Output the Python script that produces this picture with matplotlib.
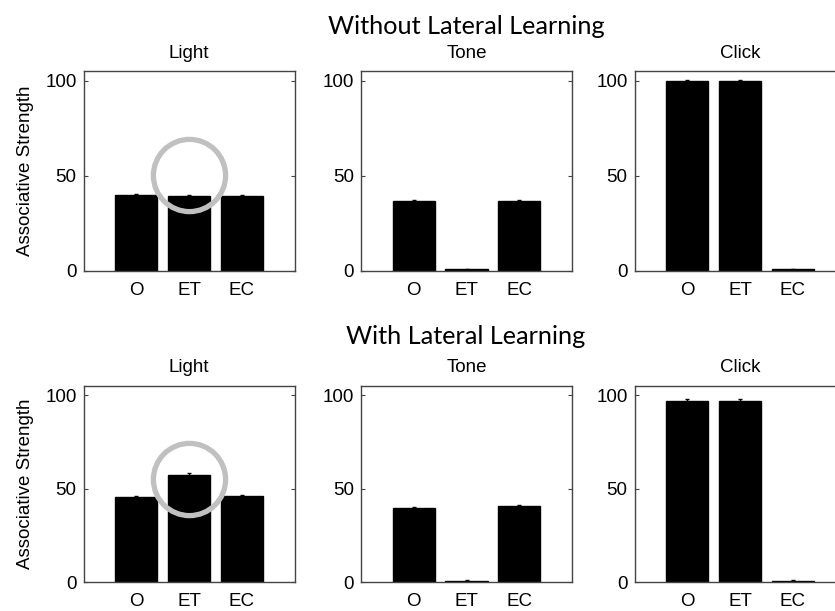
import numpy as np
import matplotlib.pyplot as plt

# associative strength per cue, conditions O / ET / EC
conditions = ['O', 'ET', 'EC']
cues = ['Light', 'Tone', 'Click']

without_light = [40.2, 39.5, 39.6]
without_tone = [37.0, 0.8, 37.0]
without_click = [100.0, 100.0, 0.8]

with_light = [45.3, 57.3, 46.2]
with_tone = [39.7, 0.8, 40.5]
with_click = [97.0, 97.0, 0.8]

err_without_light = [0.5, 0.5, 0.5]
err_without_tone = [0.5, 0.4, 0.5]
err_without_click = [0.4, 0.4, 0.4]
err_with_light = [0.6, 1.2, 0.6]
err_with_tone = [0.6, 0.4, 0.7]
err_with_click = [1.0, 1.0, 0.4]

# highlighted ET bar in the Light panel (ring centre)
ring_top_y = 50.5
ring_bottom_y = 55.0

rows = [
  ('Without Lateral Learning', [without_light, without_tone, without_click],
   [err_without_light, err_without_tone, err_without_click], ring_top_y),
  ('With Lateral Learning', [with_light, with_tone, with_click],
   [err_with_light, err_with_tone, err_with_click], ring_bottom_y),
]

W, H = 835, 611
fig = plt.figure(figsize=(W / 100, H / 100), dpi=100)

tick_font = dict(family='Liberation Sans', size=13.5)
lefts = [83.5, 361, 634.5]
width = 211
tops = [71.5, 385.7]
heights = [199.5, 196.6]
row_title_base = [33.5, 343.5]
row_title_x = 466

for r, (row_title, values, errs, ring_y) in enumerate(rows):
  fig.text(row_title_x / W, 1 - row_title_base[r] / H, row_title,
           family='Lato', fontsize=18.2, ha='center', va='baseline')
  for c in range(3):
    ax = fig.add_axes([lefts[c] / W, 1 - (tops[r] + heights[r]) / H,
                       width / W, heights[r] / H])
    x = np.arange(1, 4)
    ax.bar(x, values[c], width=0.8, color='black', edgecolor='black')
    ax.errorbar(x, values[c], yerr=errs[c], fmt='none', ecolor='black',
                elinewidth=1, capsize=1.5, capthick=1)
    ax.set_xlim(0, 4)
    ax.set_ylim(0, 105)
    ax.set_xticks(x)
    ax.set_xticklabels(conditions, fontdict=tick_font)
    ax.set_yticks([0, 50, 100])
    ax.set_yticklabels(['0', '50', '100'], fontdict=tick_font)
    ax.tick_params(axis='y', direction='in', length=3, right=True,
                   pad=5, color='#444444')
    ax.tick_params(axis='x', length=0, pad=8)
    for s in ax.spines.values():
      s.set_color('#444444')
      s.set_linewidth(1.0)
    ax.set_title(cues[c], fontdict=dict(family='Liberation Sans', size=13.5),
                 pad=10)
    if c == 0:
      ax.set_ylabel('Associative Strength', fontdict=tick_font, labelpad=8)
      ax.plot([2], [ring_y], marker='o', markersize=52, markerfacecolor='none',
              markeredgecolor='#c0c0c0', markeredgewidth=3.8, clip_on=False)

fig.savefig('out.png', dpi=100)
